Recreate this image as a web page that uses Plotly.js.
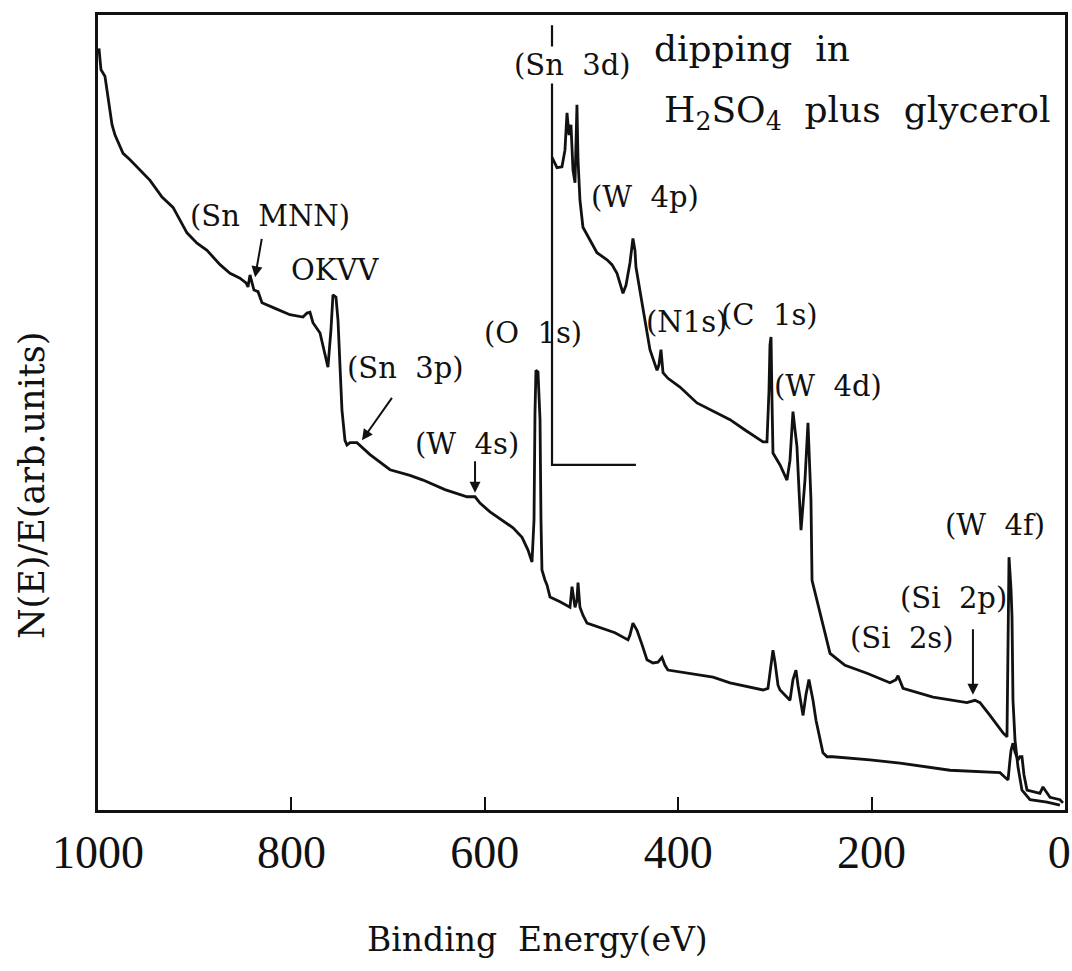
<!DOCTYPE html>
<html>
<head>
<meta charset="utf-8">
<script src="https://cdn.plot.ly/plotly-3.0.1.min.js"></script>
<style>html,body{margin:0;padding:0;background:#fff;}#chart{width:1072px;height:971px;}</style>
</head>
<body>
<div id="chart"></div>
<script>
// Full survey spectrum (binding energy eV, intensity arb. units)
const energyFull = [999.0, 996.9, 992.8, 989.7, 985.5, 982.4, 974.1, 966.9, 956.6, 946.2, 933.8, 922.4, 915.2, 908.0, 897.6, 887.3, 873.8, 863.5, 853.2, 846.9, 844.9, 842.8, 840.7, 838.7, 834.5, 830.4, 816.9, 801.5, 788.0, 783.9, 780.8, 777.7, 770.4, 765.3, 762.2, 759.1, 757.0, 753.9, 751.8, 749.7, 747.7, 744.6, 742.5, 739.4, 732.2, 718.7, 698.0, 677.4, 663.9, 641.2, 618.4, 610.1, 605.0, 594.6, 587.4, 577.1, 570.8, 561.5, 555.3, 551.2, 549.1, 548.1, 547.1, 545.0, 542.9, 541.9, 540.9, 537.7, 535.7, 532.6, 522.2, 511.9, 510.9, 509.8, 507.8, 506.7, 504.7, 503.6, 501.6, 498.5, 494.3, 480.9, 465.4, 451.9, 449.9, 446.8, 444.7, 442.6, 437.4, 432.3, 426.1, 420.9, 416.8, 413.7, 410.6, 387.8, 364.0, 346.4, 325.8, 312.3, 307.2, 304.0, 302.0, 299.9, 296.8, 294.7, 287.5, 284.4, 281.3, 278.2, 276.1, 273.0, 270.9, 267.9, 264.8, 262.7, 260.6, 257.5, 253.4, 250.3, 246.1, 240.0, 201.7, 170.6, 118.9, 67.2, 61.0, 58.9, 56.9, 55.8, 53.8, 51.7, 48.6, 46.6, 44.5, 42.4, 39.3, 31.1, 25.9, 22.8, 18.6, 15.5, 5.2, 2.1];
const intensityFull = [95.8, 93.1, 92.3, 89.9, 86.2, 84.9, 82.6, 81.8, 80.5, 79.2, 77.1, 75.8, 74.2, 72.6, 71.3, 70.4, 68.6, 67.5, 66.9, 66.3, 65.8, 67.3, 66.3, 65.4, 65.2, 63.8, 63.1, 62.3, 62.0, 62.5, 62.6, 61.3, 60.0, 57.2, 55.7, 60.4, 64.8, 64.5, 61.6, 55.7, 50.3, 46.5, 45.9, 46.2, 46.2, 44.7, 42.8, 42.1, 41.5, 40.3, 39.4, 39.4, 38.6, 37.5, 36.9, 36.1, 35.5, 34.3, 32.7, 31.2, 36.5, 49.9, 55.3, 55.1, 49.1, 36.5, 30.2, 28.9, 28.3, 26.8, 26.2, 25.5, 27.0, 28.1, 26.4, 25.5, 26.4, 28.6, 25.5, 24.5, 23.5, 22.9, 22.3, 21.4, 22.0, 23.5, 23.1, 22.6, 20.8, 18.9, 18.5, 18.6, 19.2, 18.2, 17.6, 17.2, 16.7, 16.0, 15.5, 15.1, 15.3, 18.2, 20.1, 18.6, 15.7, 15.1, 14.2, 13.8, 16.4, 17.6, 15.7, 13.2, 11.9, 14.5, 16.4, 15.1, 13.8, 11.3, 8.8, 7.2, 6.7, 6.7, 6.3, 5.9, 5.0, 4.7, 4.0, 3.8, 6.3, 7.5, 8.4, 7.3, 6.3, 6.7, 6.7, 4.4, 2.5, 2.3, 2.1, 2.9, 2.1, 1.6, 1.3, 0.9];

// Expanded (offset) spectrum below ~530 eV
const energyExp = [530.5, 525.3, 520.2, 517.1, 515.0, 512.9, 510.9, 508.8, 506.7, 505.7, 504.7, 503.6, 502.6, 501.6, 498.5, 491.2, 484.0, 473.6, 468.5, 463.3, 460.2, 457.1, 454.0, 449.9, 446.8, 444.7, 443.7, 439.5, 436.4, 432.3, 429.2, 421.9, 419.9, 417.8, 415.7, 410.6, 398.2, 380.6, 361.9, 346.4, 330.9, 312.3, 308.2, 306.1, 305.1, 304.0, 303.0, 302.0, 294.7, 287.5, 284.4, 281.3, 279.2, 277.2, 275.1, 273.0, 270.9, 268.9, 265.8, 263.7, 262.7, 261.6, 256.5, 250.3, 243.0, 227.5, 204.8, 181.0, 174.8, 172.7, 167.5, 136.5, 101.4, 93.1, 87.9, 77.6, 64.1, 60.0, 58.9, 57.9, 55.8, 54.8, 53.8, 51.7, 48.6, 44.5, 36.2, 18.6, 5.2];
const intensityExp = [82.1, 80.8, 80.9, 83.0, 87.7, 84.9, 86.2, 80.5, 78.9, 83.0, 88.7, 81.8, 78.6, 76.7, 73.3, 71.7, 70.1, 69.2, 68.6, 67.5, 66.3, 65.0, 66.0, 68.8, 71.9, 70.4, 68.3, 65.4, 62.9, 60.4, 57.9, 55.3, 56.0, 57.9, 55.0, 54.3, 53.2, 51.2, 50.1, 49.1, 47.8, 46.3, 46.3, 52.8, 58.5, 59.5, 51.6, 44.9, 43.4, 41.5, 44.0, 50.1, 47.8, 45.7, 40.3, 35.2, 38.4, 41.5, 48.7, 43.1, 39.0, 28.9, 26.4, 23.3, 19.7, 18.2, 17.2, 16.0, 16.4, 16.9, 15.3, 14.2, 13.5, 13.8, 13.5, 11.9, 9.7, 9.2, 18.0, 31.8, 27.7, 24.3, 13.8, 8.8, 5.4, 2.5, 1.3, 1.0, 0.6];

// Recorder offset marker of the expanded trace
const energyMarker = [530.5, 530.5, 443.7];
const intensityMarker = [98.7, 43.4, 43.4];

// Peak labels
const labelTexts = ['(Sn\u00a0\u00a0MNN)', 'OKVV', '(Sn\u00a0\u00a03p)', '(W\u00a0\u00a04s)', '(O\u00a0\u00a01s)', '(Sn\u00a0\u00a03d)', '(W\u00a0\u00a04p)', '(N1s)', '(C\u00a0\u00a01s)', '(W\u00a0\u00a04d)', '(W\u00a0\u00a04f)', '(Si\u00a0\u00a02p)', '(Si\u00a0\u00a02s)'];
const labelEnergy = [822.1, 754.9, 682.5, 618.4, 550.2, 509.8, 434.3, 391.1, 305.1, 245.1, 72.4, 115.8, 168.6];
const labelIntensity = [74.7, 67.9, 55.6, 46.0, 60.0, 93.7, 77.1, 61.4, 62.3, 53.3, 35.8, 26.7, 21.6];

// Arrow targets (energy, intensity)
const arrowEnergy = [837.6, 727.0, 610.1, 95.2];
const arrowIntensity = [67.0, 46.5, 39.9, 14.5];

const tickValues = [1000, 800, 600, 400, 200, 0];
const tickLabels = ['1000', '800', '600', '400', '200', '0\u00a0'];

const xTitle = 'Binding\u00a0\u00a0Energy(eV)';
const yTitle = 'N(E)/E(arb.units)';

const serif = 'DejaVu Serif, Liberation Serif, serif';
const lineStyle = {color: '#111', width: 2.8};

const traces = [
  {x: energyFull, y: intensityFull, mode: 'lines', line: lineStyle, hoverinfo: 'skip', showlegend: false},
  {x: energyExp, y: intensityExp, mode: 'lines', line: lineStyle, hoverinfo: 'skip', showlegend: false},
  {x: energyMarker, y: intensityMarker, mode: 'lines', line: {color: '#111', width: 2.2}, hoverinfo: 'skip', showlegend: false}
];

const annotations = labelTexts.map((t, i) => ({
  x: labelEnergy[i], y: labelIntensity[i], xref: 'x', yref: 'y', text: t, showarrow: false,
  font: {family: serif, size: 29, color: '#111'},
  bgcolor: t.indexOf('3d') >= 0 ? '#fff' : 'rgba(0,0,0,0)'
}));

const arrowOffsets = [[7, -40], [31, -44], [0, -33], [0, -67]];
arrowEnergy.forEach((e, i) => {
  annotations.push({x: e, y: arrowIntensity[i], xref: 'x', yref: 'y', text: '', showarrow: true,
    ax: arrowOffsets[i][0], ay: arrowOffsets[i][1], arrowhead: 2, arrowsize: 1.1, arrowwidth: 2, arrowcolor: '#111'});
});

annotations.push({x: 427.1, y: 95.8, xref: 'x', yref: 'y', xanchor: 'left', text: 'dipping\u00a0\u00a0in', showarrow: false,
  font: {family: serif, size: 36, color: '#111'}});
annotations.push({x: 416.8, y: 87.7, xref: 'x', yref: 'y', xanchor: 'left', text: 'H<sub>2</sub>SO<sub>4</sub>\u00a0\u00a0plus\u00a0\u00a0glycerol', showarrow: false,
  font: {family: serif, size: 36, color: '#111'}});

// axis titles (placed as in the original figure)
annotations.push({x: 0.454, y: -0.1635, xref: 'paper', yref: 'paper', xanchor: 'center', yanchor: 'middle',
  text: xTitle, showarrow: false, font: {family: serif, size: 33, color: '#111'}});
annotations.push({x: -0.068, y: 0.409, xref: 'paper', yref: 'paper', xanchor: 'center', yanchor: 'middle',
  text: yTitle, textangle: -90, showarrow: false, font: {family: serif, size: 35, color: '#111'}});

const layout = {
  width: 1072, height: 971,
  margin: {l: 98, r: 7, t: 15, b: 161},
  paper_bgcolor: '#fff', plot_bgcolor: '#fff',
  showlegend: false,
  xaxis: {
    range: [1000, 0], tickvals: tickValues, ticktext: tickLabels,
    ticks: 'inside', ticklen: 13, tickwidth: 2, tickcolor: '#111',
    showline: true, linewidth: 3, linecolor: '#111', mirror: true,
    showgrid: false, zeroline: false,
    tickfont: {family: 'Liberation Serif, serif', size: 46, color: '#111'},
    ticklabelstandoff: 0, ticklabeloverflow: 'allow'
  },
  yaxis: {
    range: [0, 100], showticklabels: false, ticks: '',
    showline: true, linewidth: 3, linecolor: '#111', mirror: true,
    showgrid: false, zeroline: false
  },
  annotations: annotations
};

Plotly.newPlot('chart', traces, layout, {staticPlot: true, displayModeBar: false});
</script>
</body>
</html>
